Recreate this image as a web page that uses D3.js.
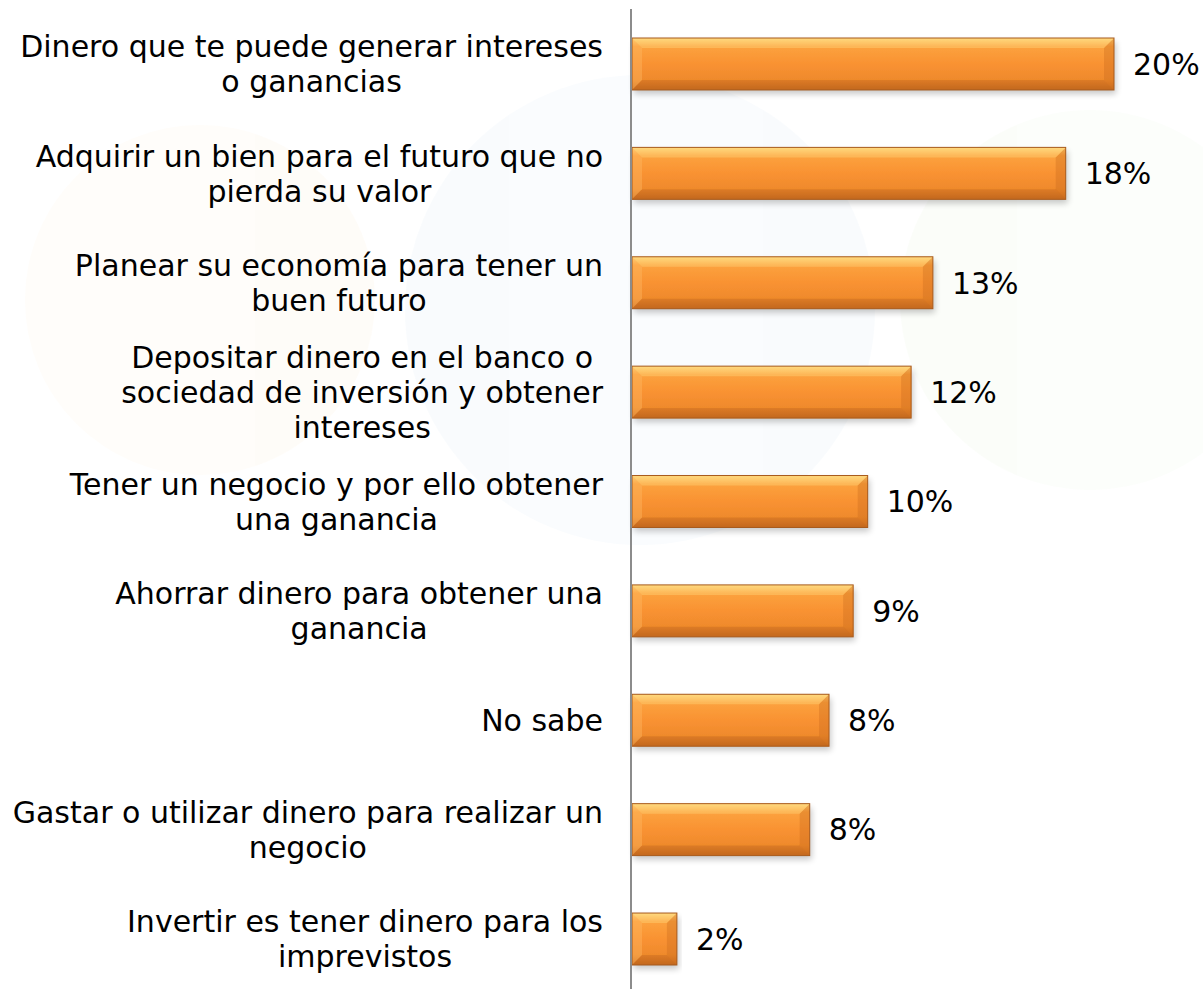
<!DOCTYPE html>
<html>
<head>
<meta charset="utf-8">
<script src="https://cdn.jsdelivr.net/npm/d3@7"></script>
<style>
  body { margin: 0; background: #fff; }
  svg { display: block; font-family: 'DejaVu Sans', Verdana, sans-serif; }
</style>
</head>
<body>
<div class="chart"></div>
<script>
// categories, already split the way the original wraps them
const categories = [
  ['Dinero que te puede generar intereses', 'o ganancias'],
  ['Adquirir un bien para el futuro que no', 'pierda su valor'],
  ['Planear su economía para tener un', 'buen futuro'],
  ['Depositar dinero en el banco o', 'sociedad de inversión y obtener', 'intereses'],
  ['Tener un negocio y por ello obtener', 'una ganancia'],
  ['Ahorrar dinero para obtener una', 'ganancia'],
  ['No sabe'],
  ['Gastar o utilizar dinero para realizar un', 'negocio'],
  ['Invertir es tener dinero para los', 'imprevistos']
];
const values = [20.0, 18.0, 12.5, 11.6, 9.8, 9.2, 8.2, 7.4, 1.9];
const valueLabels = ['20%', '18%', '13%', '12%', '10%', '9%', '8%', '8%', '2%'];

const w = 1203;
const h = 989;
const axisX = 631;
const labelRight = 603;
const fontSize = 30;

const svg = d3.select('.chart').append('svg')
  .attr('width', w)
  .attr('height', h);

const defs = svg.append('defs');

let grad = defs.append('linearGradient')
  .attr('id', 'barFill')
  .attr('x1', 0).attr('y1', 0).attr('x2', 0).attr('y2', 1);
grad.append('stop').attr('offset', '0%').attr('stop-color', '#ffd77a');
grad.append('stop').attr('offset', '16%').attr('stop-color', '#fca23e');
grad.append('stop').attr('offset', '50%').attr('stop-color', '#f99232');
grad.append('stop').attr('offset', '80%').attr('stop-color', '#ef8a2c');
grad.append('stop').attr('offset', '100%').attr('stop-color', '#c96d20');

let shadow = defs.append('filter').attr('id', 'shadow')
  .attr('x', '-5%').attr('y', '-20%').attr('width', '115%').attr('height', '160%');
shadow.append('feGaussianBlur').attr('in', 'SourceAlpha').attr('stdDeviation', 3);
shadow.append('feOffset').attr('dx', 2).attr('dy', 4).attr('result', 'off');
shadow.append('feComponentTransfer').append('feFuncA').attr('type', 'linear').attr('slope', 0.22);
let merge = shadow.append('feMerge');
merge.append('feMergeNode');
merge.append('feMergeNode').attr('in', 'SourceGraphic');

// very faint watermark in the background
const wm = svg.append('g').attr('opacity', 0.025);
wm.append('circle').attr('cx', 200).attr('cy', 300).attr('r', 175).attr('fill', '#f39a1e');
wm.append('circle').attr('cx', 640).attr('cy', 310).attr('r', 235).attr('fill', '#2a7fc1');
wm.append('circle').attr('cx', 1090).attr('cy', 300).attr('r', 190).attr('fill', '#7cc242');

const x = d3.scaleLinear().domain([0, 20]).range([axisX, 1114]);
const y = d3.scaleBand()
  .domain(d3.range(categories.length))
  .range([9.3, 993.7])
  .paddingInner(0.525)
  .paddingOuter(0.2625);

const bh = y.bandwidth();
const bev = 10;

const bars = svg.append('g').selectAll('g')
  .data(values)
  .enter().append('g')
  .attr('transform', (d, i) => `translate(${axisX + 1},${y(i)})`);

bars.append('rect')
  .attr('width', d => x(d) - axisX - 1)
  .attr('height', bh)
  .attr('fill', 'url(#barFill)')
  .attr('filter', 'url(#shadow)');

// bevel facets
bars.append('path')
  .attr('d', `M0,0 L${bev},${bev} L${bev},${bh - bev} L0,${bh} Z`)
  .attr('fill', '#ffb865').attr('opacity', 0.4);

bars.append('path')
  .attr('d', d => {
    let bw = x(d) - axisX - 1;
    return `M${bw},0 L${bw - bev},${bev} L${bw - bev},${bh - bev} L${bw},${bh} Z`;
  })
  .attr('fill', '#c86a1e').attr('opacity', 0.35);

bars.append('path')
  .attr('d', d => {
    let bw = x(d) - axisX - 1;
    return `M0,0 L${bw},0 L${bw - bev},${bev} L${bev},${bev} Z`;
  })
  .attr('fill', '#ffe08a').attr('opacity', 0.35);

bars.append('path')
  .attr('d', d => {
    let bw = x(d) - axisX - 1;
    return `M0,${bh} L${bw},${bh} L${bw - bev},${bh - bev} L${bev},${bh - bev} Z`;
  })
  .attr('fill', '#b65e1a').attr('opacity', 0.3);

bars.append('rect')
  .attr('width', d => x(d) - axisX - 1)
  .attr('height', bh)
  .attr('fill', 'none')
  .attr('stroke', '#a85a1c')
  .attr('stroke-width', 1);

// value labels
svg.append('g').selectAll('text')
  .data(values)
  .enter().append('text')
  .attr('x', d => x(d) + 19)
  .attr('y', (d, i) => y(i) + bh / 2)
  .attr('dy', '0.36em')
  .attr('font-size', fontSize)
  .attr('fill', '#000')
  .text((d, i) => valueLabels[i]);

// category labels: block right-aligned, lines centred in the block
const lineH = 35;
const cats = svg.append('g');
categories.forEach((lines, i) => {
  let g = cats.append('g');
  let cy = y(i) + bh / 2;
  let top = cy - (lines.length - 1) * lineH / 2;
  let texts = g.selectAll('text')
    .data(lines)
    .enter().append('text')
    .attr('y', (d, j) => top + j * lineH)
    .attr('dy', '0.36em')
    .attr('font-size', fontSize)
    .attr('text-anchor', 'middle')
    .attr('fill', '#000')
    .text(d => d);
  let maxW = d3.max(texts.nodes(), n => n.getComputedTextLength());
  texts.attr('x', labelRight - maxW / 2);
});

// vertical axis line
svg.append('line')
  .attr('x1', axisX).attr('x2', axisX)
  .attr('y1', 9).attr('y2', h)
  .attr('stroke', '#8c8c8c')
  .attr('stroke-width', 2);
</script>
</body>
</html>
